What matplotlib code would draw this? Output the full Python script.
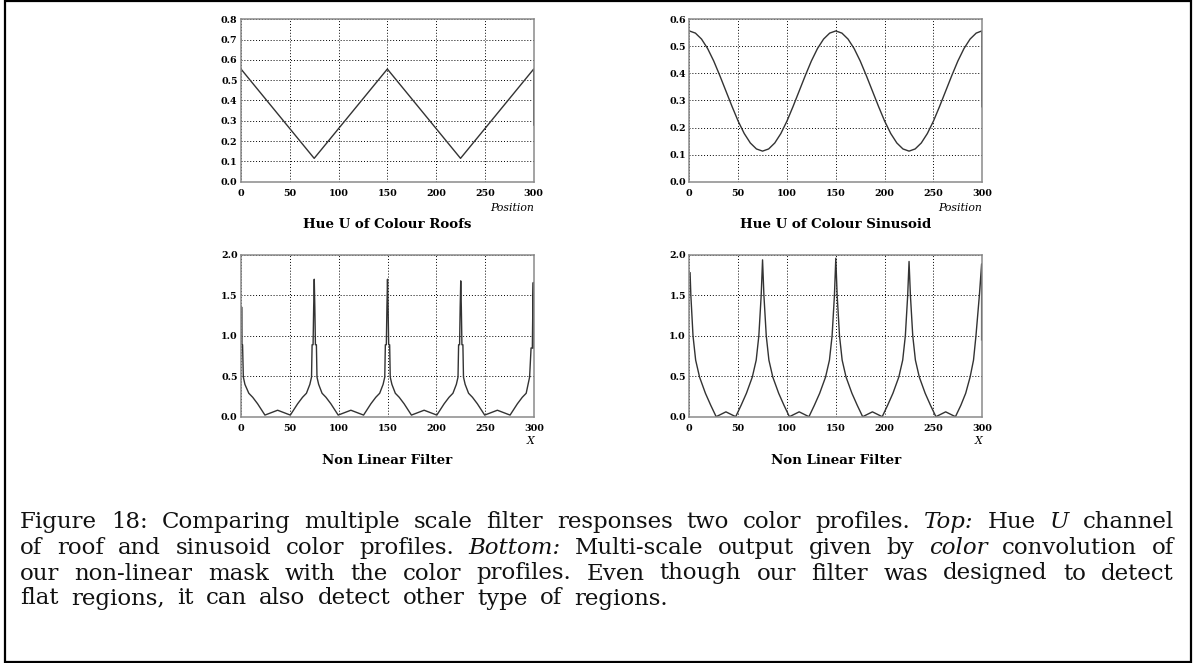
import matplotlib
matplotlib.use('Agg')
import matplotlib.pyplot as plt
from matplotlib.patches import Rectangle

W, H = 1193, 663
plt.rcParams['mathtext.fontset'] = 'dejavuserif'

# ---------------- data ----------------
x_ticks = [0, 50, 100, 150, 200, 250, 300]
x_ticklabels = ['0', '50', '100', '150', '200', '250', '300']

roof_x = [0, 75, 150, 225, 300, 300]
roof_y = [0.555, 0.115, 0.555, 0.115, 0.555, 0.279]

sin_x = [0, 6.25, 12.5, 18.75, 25, 31.25, 37.5, 43.75, 50, 56.25, 62.5, 68.75, 75,
         81.25, 87.5, 93.75, 100, 106.25, 112.5, 118.75, 125, 131.25, 137.5, 143.75, 150,
         156.25, 162.5, 168.75, 175, 181.25, 187.5, 193.75, 200, 206.25, 212.5, 218.75, 225,
         231.25, 237.5, 243.75, 250, 256.25, 262.5, 268.75, 275, 281.25, 287.5, 293.75, 299.5, 299.5]
sin_y = [0.557, 0.549, 0.527, 0.492, 0.446, 0.392, 0.335, 0.278, 0.224, 0.178, 0.143, 0.121, 0.113,
         0.121, 0.143, 0.178, 0.224, 0.278, 0.335, 0.392, 0.446, 0.492, 0.527, 0.549, 0.557,
         0.549, 0.527, 0.492, 0.446, 0.392, 0.335, 0.278, 0.224, 0.178, 0.143, 0.121, 0.113,
         0.121, 0.143, 0.178, 0.224, 0.278, 0.335, 0.392, 0.446, 0.492, 0.527, 0.549, 0.557, 0.277]

roof_filt_x = [0.9, 1.0, 1.6, 2.4, 4, 8, 12, 17, 24.5, 37.5, 50.5, 58, 63, 67, 70.5, 72.2, 72.8, 73.8, 74.4, 75,
               75.6, 76.2, 77.2, 77.8, 79.5, 83, 87, 92, 99.5, 112.5, 125.5, 133, 138, 142, 145.5, 147.2, 147.8, 148.8, 149.4, 150,
               150.6, 151.2, 152.2, 152.8, 154.5, 158, 162, 167, 174.5, 187.5, 200.5, 208, 213, 217, 220.5, 222.2, 222.8, 223.8, 224.4, 225,
               225.6, 226.2, 227.2, 227.8, 229.5, 233, 237, 242, 249.5, 262.5, 275.5, 283, 288, 292, 295.5, 297, 298.3, 298.8, 299.3, 299.3]
roof_filt_y = [1.35, 0.89, 0.89, 0.49, 0.40, 0.29, 0.24, 0.16, 0.02, 0.08, 0.02, 0.16, 0.24, 0.29, 0.40, 0.49, 0.89, 0.89, 1.35, 1.70,
               1.35, 0.89, 0.89, 0.49, 0.40, 0.29, 0.24, 0.16, 0.02, 0.08, 0.02, 0.16, 0.24, 0.29, 0.40, 0.49, 0.89, 0.89, 1.35, 1.70,
               1.35, 0.89, 0.89, 0.49, 0.40, 0.29, 0.24, 0.16, 0.02, 0.08, 0.02, 0.16, 0.24, 0.29, 0.40, 0.49, 0.89, 0.89, 1.35, 1.68,
               1.35, 0.89, 0.89, 0.49, 0.40, 0.29, 0.24, 0.16, 0.02, 0.08, 0.02, 0.16, 0.24, 0.29, 0.49, 0.85, 0.85, 1.35, 1.66, 0.85]

sin_filt_x = [0.8, 1.6, 3.8, 6.5, 10.5, 16.5, 22, 27.5, 37.5, 47.5, 53, 58.5, 64.5, 68.5, 71.2, 73.6, 75,
              76.4, 78.8, 81.5, 85.5, 91.5, 97, 102.5, 112.5, 122.5, 128, 133.5, 139.5, 143.5, 146.2, 148.6, 150,
              151.4, 153.8, 156.5, 160.5, 166.5, 172, 177.5, 187.5, 197.5, 203, 208.5, 214.5, 218.5, 221.2, 223.6, 225,
              226.4, 228.8, 231.5, 235.5, 241.5, 247, 252.5, 262.5, 272.5, 278, 283, 287.5, 291, 293.5, 297, 299.3, 299.3]
sin_filt_y = [1.78, 1.5, 1.0, 0.7, 0.49, 0.29, 0.14, 0.0, 0.06, 0.0, 0.14, 0.29, 0.49, 0.7, 1.0, 1.5, 1.94,
              1.5, 1.0, 0.7, 0.49, 0.29, 0.14, 0.0, 0.06, 0.0, 0.14, 0.29, 0.49, 0.7, 1.0, 1.5, 1.96,
              1.5, 1.0, 0.7, 0.49, 0.29, 0.14, 0.0, 0.06, 0.0, 0.14, 0.29, 0.49, 0.7, 1.0, 1.5, 1.92,
              1.5, 1.0, 0.7, 0.49, 0.29, 0.14, 0.0, 0.06, 0.0, 0.14, 0.29, 0.49, 0.7, 1.0, 1.5, 1.89, 0.95]

top_left_yticks = [0.0, 0.1, 0.2, 0.3, 0.4, 0.5, 0.6, 0.7, 0.8]
top_right_yticks = [0.0, 0.1, 0.2, 0.3, 0.4, 0.5, 0.6]
bottom_yticks = [0.0, 0.5, 1.0, 1.5, 2.0]

titles = ['Hue U of Colour Roofs', 'Hue U of Colour Sinusoid', 'Non Linear Filter', 'Non Linear Filter']
xnames = ['Position', 'Position', 'X', 'X']

caption_lines = [
    [('Figure', 0), ('18:', 0), ('Comparing', 0), ('multiple', 0), ('scale', 0), ('filter', 0),
     ('responses', 0), ('two', 0), ('color', 0), ('profiles.', 0), ('Top:', 1), ('Hue', 0), ('U', 1),
     ('channel', 0)],
    [('of', 0), ('roof', 0), ('and', 0), ('sinusoid', 0), ('color', 0), ('profiles.', 0), ('Bottom:', 1),
     ('Multi-scale', 0), ('output', 0), ('given', 0), ('by', 0), ('color', 1), ('convolution', 0), ('of', 0)],
    [('our', 0), ('non-linear', 0), ('mask', 0), ('with', 0), ('the', 0), ('color', 0), ('profiles.', 0),
     ('Even', 0), ('though', 0), ('our', 0), ('filter', 0), ('was', 0), ('designed', 0), ('to', 0),
     ('detect', 0)],
    [('flat', 0), ('regions,', 0), ('it', 0), ('can', 0), ('also', 0), ('detect', 0), ('other', 0),
     ('type', 0), ('of', 0), ('regions.', 0)],
]

# ---------------- figure ----------------
fig = plt.figure(figsize=(W / 100, H / 100), dpi=100)


def axrect(x0, y0, x1, y1):
    return [x0 / W, 1 - y1 / H, (x1 - x0) / W, (y1 - y0) / H]


LINE_C = '#333333'
tick_font = dict(family='DejaVu Serif', weight='bold', size=6.8)


def style(ax, ymax, yticks, title, xname, title_y, xname_y):
    ax.set_xlim(0, 300)
    ax.set_ylim(0, ymax)
    ax.set_xticks(x_ticks)
    ax.set_xticklabels(x_ticklabels, fontdict=tick_font)
    ax.set_yticks(yticks)
    ax.set_yticklabels(['%.1f' % v for v in yticks], fontdict=tick_font)
    ax.grid(True, color='black', linestyle=(0, (1, 2)), linewidth=0.7)
    for s in ax.spines.values():
        s.set_color('#8a8a8a')
        s.set_linewidth(1.1)
    ax.tick_params(axis='x', length=0, pad=5)
    ax.tick_params(axis='y', length=0, pad=2.5)
    bb = ax.get_position()
    xr = bb.x1
    xc = (bb.x0 + bb.x1) / 2
    fig.text(xr, 1 - xname_y / H, xname, family='DejaVu Serif', style='italic',
             size=7.8, ha='right', va='center')
    fig.text(xc, 1 - title_y / H, title, family='DejaVu Serif', weight='bold',
             size=9.6, ha='center', va='center')


ax1 = fig.add_axes(axrect(241, 19.3, 533.7, 181.7))
ax1.plot(roof_x, roof_y, color=LINE_C, lw=1.0)
style(ax1, 0.8, top_left_yticks, titles[0], xnames[0], 225, 208)

ax2 = fig.add_axes(axrect(689.3, 19.3, 982.3, 181.7))
ax2.plot(sin_x, sin_y, color=LINE_C, lw=1.0)
style(ax2, 0.6, top_right_yticks, titles[1], xnames[1], 225, 208)

ax3 = fig.add_axes(axrect(241, 255, 534, 416.7))
ax3.plot(roof_filt_x, roof_filt_y, color=LINE_C, lw=1.0)
style(ax3, 2.0, bottom_yticks, titles[2], xnames[2], 460, 441.5)

ax4 = fig.add_axes(axrect(689.3, 255, 982.3, 416.7))
ax4.plot(sin_filt_x, sin_filt_y, color=LINE_C, lw=1.0)
style(ax4, 2.0, bottom_yticks, titles[3], xnames[3], 460, 441.5)

# border
fig.patches.append(Rectangle((4.5 / W, 1.5 / H), (1190.5 - 4.5) / W, (662.0 - 1.5) / H,
                             transform=fig.transFigure, fill=False, edgecolor='black',
                             linewidth=1.6, zorder=10))

# caption, justified
CAP_FS = 16.5
X0, X1 = 20, 1174
baselines = [527.7, 554, 579.5, 604.5]
renderer = fig.canvas.get_renderer()
for i, words in enumerate(caption_lines):
    objs = [fig.text(0, 0, w, family='DejaVu Serif', style=('italic' if it else 'normal'),
                     size=CAP_FS, ha='left', va='baseline', color='#111111') for w, it in words]
    widths = [o.get_window_extent(renderer).width for o in objs]
    if i < len(caption_lines) - 1:
        gap = (X1 - X0 - sum(widths)) / (len(words) - 1)
    else:
        gap = 0.54 * CAP_FS * 100 / 72
    x = X0
    for o, w in zip(objs, widths):
        o.set_position((x / W, 1 - baselines[i] / H))
        x += w + gap

fig.savefig('out.png', dpi=100)
